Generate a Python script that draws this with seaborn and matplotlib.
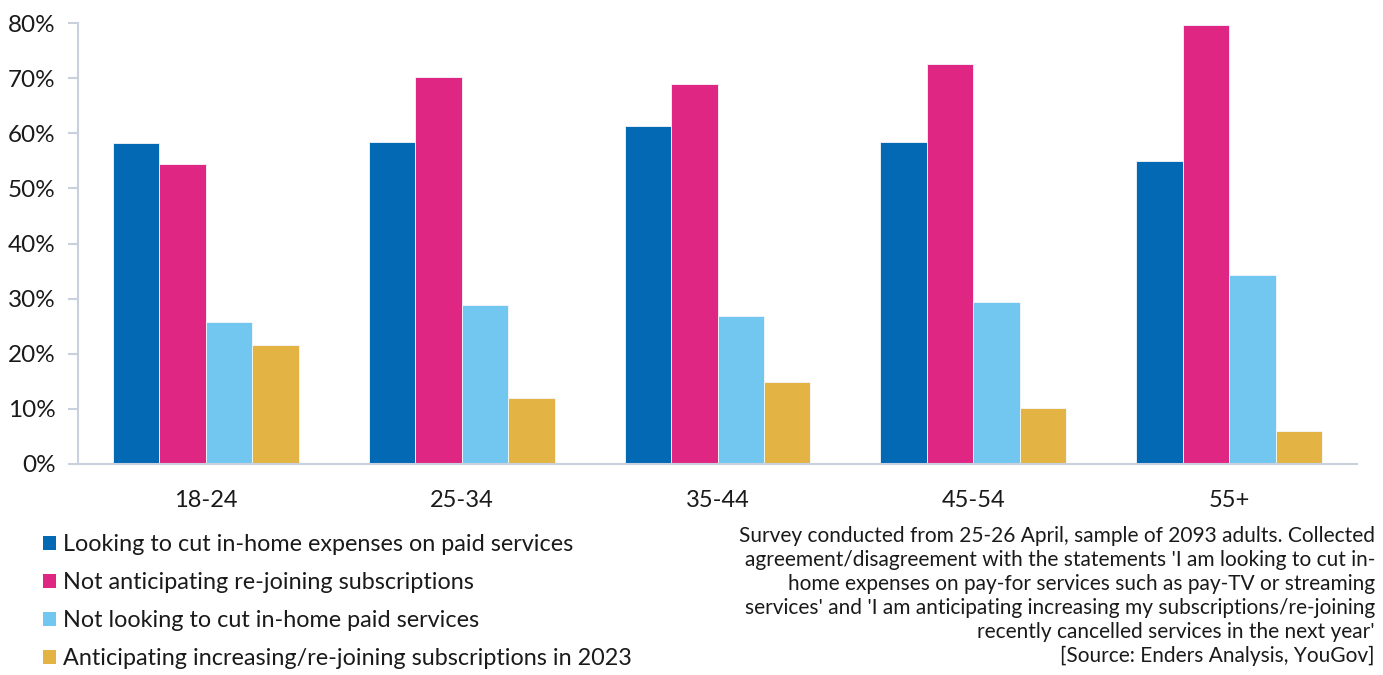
import matplotlib
matplotlib.use("Agg")
import matplotlib.pyplot as plt
import matplotlib.patches as mpatches
from matplotlib.ticker import PercentFormatter, FixedLocator
import seaborn as sns
import pandas as pd

age_groups = ["18-24", "25-34", "35-44", "45-54", "55+"]
series_names = [
    "Looking to cut in-home expenses on paid services",
    "Not anticipating re-joining subscriptions",
    "Not looking to cut in-home paid services",
    "Anticipating increasing/re-joining subscriptions in 2023",
]
cut_expenses = [58.3, 58.4, 61.3, 58.4, 55.0]
not_rejoining = [54.4, 70.2, 69.0, 72.6, 79.7]
not_cutting = [25.8, 28.9, 26.9, 29.4, 34.3]
rejoining = [21.6, 12.0, 14.9, 10.2, 6.0]
colors = ["#0369B5", "#E02683", "#72C7F0", "#E3B443"]
note = ("Survey conducted from 25-26 April, sample of 2093 adults. Collected\n"
        "agreement/disagreement with the statements 'I am looking to cut in-\n"
        "home expenses on pay-for services such as pay-TV or streaming\n"
        "services' and 'I am anticipating increasing my subscriptions/re-joining\n"
        "recently cancelled services in the next year'\n"
        "[Source: Enders Analysis, YouGov]")

rows = []
for name, vals in zip(series_names, [cut_expenses, not_rejoining, not_cutting, rejoining]):
    for g, v in zip(age_groups, vals):
        rows.append({"age": g, "series": name, "value": v})
df = pd.DataFrame(rows)

sns.set_theme(style="white")
plt.rcParams["font.family"] = ["Lato", "DejaVu Sans"]

fig = plt.figure(figsize=(13.83, 6.75), dpi=100)
ax = fig.add_axes([78 / 1383, (675 - 464) / 675, (1357 - 78) / 1383, (464 - 23) / 675])

sns.barplot(data=df, x="age", y="value", hue="series", order=age_groups,
            hue_order=series_names, palette=colors, width=0.727, ax=ax,
            edgecolor="#F4F7FB", linewidth=0.6, legend=False, saturation=1)

axis_col = "#C9D0DE"
ax.set_xlim(-0.5, 4.5)
ax.set_ylim(0, 80)
ax.yaxis.set_major_locator(FixedLocator(list(range(0, 81, 10))))
ax.yaxis.set_major_formatter(PercentFormatter(decimals=0))
ax.set_xlabel("")
ax.set_ylabel("")
for s in ["top", "right"]:
    ax.spines[s].set_visible(False)
for s in ["left", "bottom"]:
    ax.spines[s].set_color(axis_col)
    ax.spines[s].set_linewidth(1.5)
ax.set_xticks(range(5))
ax.set_xticklabels(age_groups)
ax.set_xticks([i - 0.5 for i in range(6)], minor=True)
ax.tick_params(axis="x", which="major", length=0, pad=19, labelsize=17, labelcolor="#1a1a1a")
ax.tick_params(axis="x", which="minor", length=7, width=1.5, color=axis_col, direction="out")
ax.tick_params(axis="y", length=7, width=1.5, color=axis_col, direction="out", pad=9,
               labelsize=17.5, labelcolor="#1a1a1a", left=True)
ax.grid(False)

handles = [mpatches.Patch(facecolor=c, edgecolor="none") for c in colors]
fig.legend(handles, series_names, loc="upper left", bbox_to_anchor=(34 / 1383, 1 - 525 / 675),
           frameon=False, fontsize=16.8, handlelength=0.55, handleheight=0.55, handletextpad=0.3,
           labelspacing=0.73, borderaxespad=0, labelcolor="#1a1a1a")

fig.text(1375 / 1383, 1 - 526 / 675, note, ha="right", va="top", fontsize=15,
         color="#1a1a1a", linespacing=1.25)

fig.savefig("out.png", dpi=100)
